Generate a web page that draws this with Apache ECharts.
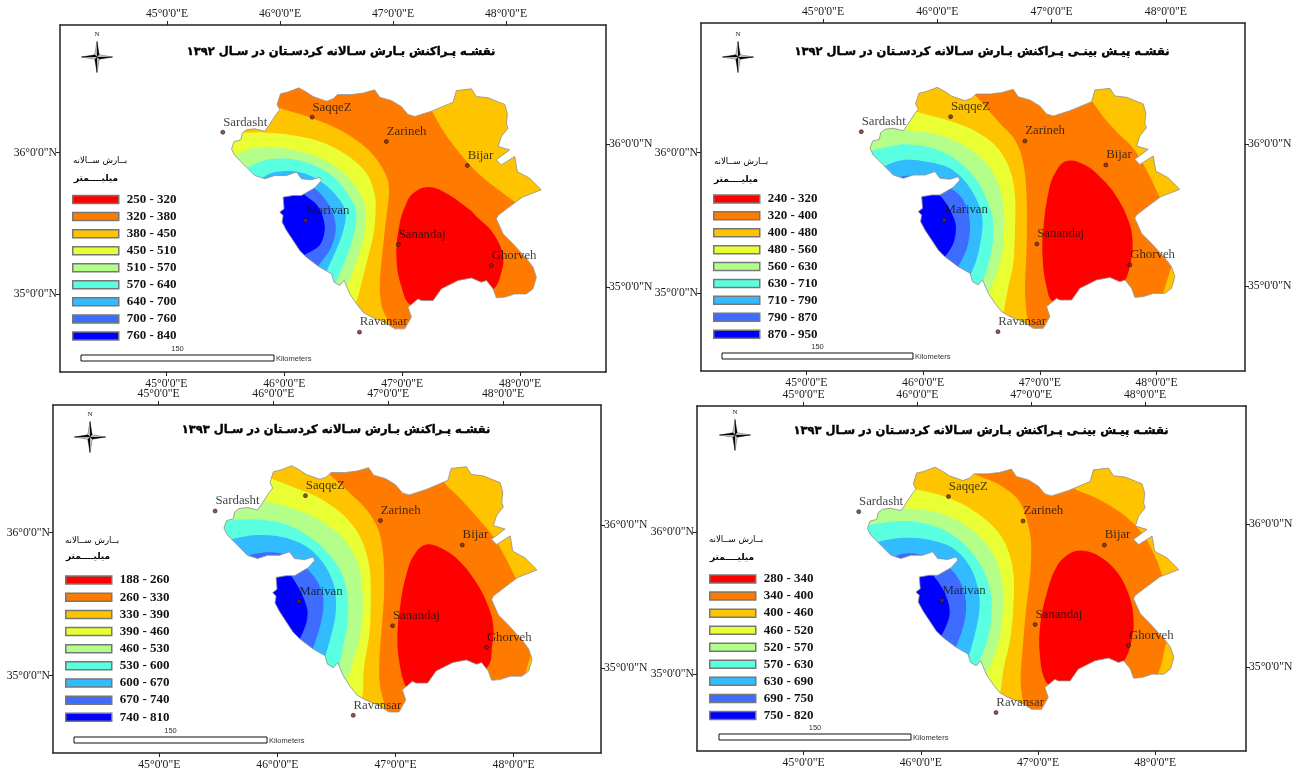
<!DOCTYPE html>
<html><head><meta charset="utf-8">
<style>html,body{margin:0;padding:0;background:#fff}#c{width:1301px;height:772px}</style>
<script src="https://cdn.jsdelivr.net/npm/echarts@6/dist/echarts.min.js"></script>
</head><body><div id="c"></div>
<script>
// ---- data: province outline and contour edges, as [lon, lat] degrees ----
const outline=[[45.558,36.027],[45.580,36.079],[45.638,36.091],[45.649,36.138],[45.686,36.162],[45.758,36.169],[45.844,36.152],[45.878,36.192],[45.944,36.275],[45.972,36.303],[45.949,36.341],[45.978,36.416],[46.038,36.428],[46.135,36.458],[46.201,36.428],[46.258,36.397],[46.373,36.364],[46.430,36.381],[46.467,36.411],[46.587,36.411],[46.687,36.421],[46.787,36.444],[46.830,36.392],[46.930,36.369],[47.016,36.326],[47.073,36.270],[47.131,36.256],[47.274,36.293],[47.460,36.357],[47.488,36.439],[47.617,36.451],[47.660,36.397],[47.760,36.388],[47.903,36.341],[47.926,36.275],[47.917,36.204],[47.931,36.173],[47.874,36.115],[47.846,36.044],[47.946,36.020],[47.831,35.950],[47.874,35.914],[47.989,35.973],[48.011,35.867],[48.117,35.820],[48.217,35.738],[48.054,35.686],[47.946,35.620],[47.846,35.557],[47.831,35.533],[47.889,35.427],[47.974,35.357],[48.103,35.239],[48.146,35.192],[48.175,35.121],[48.146,35.039],[48.089,35.003],[47.989,35.003],[47.903,34.980],[47.831,34.975],[47.803,35.039],[47.746,35.098],[47.703,35.086],[47.617,35.116],[47.502,35.098],[47.359,35.039],[47.288,34.956],[47.188,34.956],[47.159,34.968],[47.073,34.909],[47.102,34.839],[47.045,34.756],[46.959,34.756],[46.873,34.803],[46.759,34.839],[46.687,34.874],[46.630,34.933],[46.573,35.003],[46.524,35.098],[46.487,35.062],[46.438,35.086],[46.416,35.145],[46.315,35.192],[46.201,35.262],[46.144,35.309],[46.087,35.380],[46.030,35.451],[45.992,35.510],[46.001,35.557],[45.972,35.580],[46.009,35.604],[46.001,35.686],[46.087,35.698],[46.158,35.698],[46.273,35.752],[46.330,35.804],[46.315,35.827],[46.244,35.809],[46.158,35.816],[46.115,35.863],[46.030,35.839],[45.929,35.839],[45.844,35.816],[45.758,35.839],[45.701,35.886],[45.629,35.945],[45.586,35.980]];
const cityNames=['Sardasht','SaqqeZ','Zarineh','Bijar','Marivan','Sanandaj','Ghorveh','Ravansar'];
const cityLon=[45.483,46.25,46.887,47.582,46.195,46.99,47.788,46.656];
const cityLat=[36.145,36.251,36.079,35.91,35.521,35.352,35.204,34.733];

const classes1=['250 - 320','320 - 380','380 - 450','450 - 510','510 - 570','570 - 640','640 - 700','700 - 760','760 - 840'];
const classes2=['240 - 320','320 - 400','400 - 480','480 - 560','560 - 630','630 - 710','710 - 790','790 - 870','870 - 950'];
const classes3=['188 - 260','260 - 330','330 - 390','390 - 460','460 - 530','530 - 600','600 - 670','670 - 740','740 - 810'];
const classes4=['280 - 340','340 - 400','400 - 460','460 - 520','520 - 570','570 - 630','630 - 690','690 - 750','750 - 820'];
const classColors=['#ff0000','#ff7b00','#ffc400','#eaff33','#b4ff8a','#59ffdf','#33bbff','#3d6cff','#0000ff'];

const p1Gold=[[45.89,36.37],[45.96,36.32],[46.23,36.25],[46.49,36.16],[46.72,36.03],[46.86,35.88],[46.91,35.74],[46.88,35.50],[46.85,35.27],[46.83,35.06],[46.85,34.91],[46.91,34.80],[46.95,34.70]];
const p1Yellow=[[45.586,36.157],[45.643,36.143],[45.829,36.143],[46.058,36.126],[46.316,36.079],[46.544,35.985],[46.716,35.856],[46.787,35.703],[46.793,35.568],[46.773,35.408],[46.716,35.22],[46.644,34.985],[46.60,34.91]];
const p1Green=[[45.543,35.957],[45.595,35.985],[45.744,36.032],[45.944,36.037],[46.201,35.997],[46.43,35.914],[46.602,35.785],[46.702,35.632],[46.71,35.498],[46.673,35.338],[46.573,35.102],[46.53,35.039]];
const p1Cyan=[[45.658,35.863],[45.701,35.898],[45.858,35.95],[46.058,35.957],[46.258,35.914],[46.43,35.832],[46.559,35.703],[46.63,35.573],[46.587,35.361],[46.473,35.121],[46.43,35.05]];
const p1Sky=[[45.758,35.792],[45.815,35.82],[45.929,35.863],[46.115,35.867],[46.287,35.816],[46.444,35.71],[46.536,35.58],[46.501,35.408],[46.373,35.161],[46.33,35.098]];
const p1Mid=[[46.13,35.804],[46.287,35.738],[46.401,35.62],[46.453,35.479],[46.416,35.338],[46.31,35.208],[46.258,35.145]];
const p1Blue=[[46.101,35.768],[46.173,35.71],[46.301,35.62],[46.358,35.479],[46.316,35.349],[46.187,35.279],[46.101,35.227]];
const p1Red=[[47.231,35.757],[47.374,35.726],[47.603,35.597],[47.66,35.55],[47.803,35.432],[47.889,35.267],[47.86,35.114],[47.811,35.039],[47.674,34.945],[47.388,34.886],[47.102,34.921],[47.016,35.055],[46.973,35.267],[47.002,35.503],[47.059,35.644],[47.116,35.714]];
const p1GoldEast=[[47.245,36.345],[47.288,36.279],[47.388,36.138],[47.517,35.997],[47.688,35.844],[47.946,35.679],[48.032,35.627]];

const p2Gold=[[46.33,36.51],[46.459,36.404],[46.659,36.216],[46.802,36.086],[46.873,35.922],[46.902,35.686],[46.902,35.333],[46.888,35.05],[46.902,34.862],[46.945,34.697]];
const p2Yellow=[[45.929,36.31],[45.972,36.282],[46.215,36.228],[46.444,36.157],[46.644,36.039],[46.759,35.874],[46.802,35.686],[46.802,35.451],[46.787,35.215],[46.745,35.05],[46.707,34.886],[46.673,34.815]];
const p2Green=[[45.844,36.204],[45.878,36.157],[46.101,36.133],[46.33,36.063],[46.53,35.945],[46.659,35.78],[46.707,35.592],[46.707,35.404],[46.673,35.215],[46.587,35.027],[46.544,34.956]];
const p2Cyan=[[45.50,35.987],[45.558,36.009],[45.758,36.046],[45.872,36.056],[46.101,36.027],[46.301,35.945],[46.473,35.804],[46.573,35.639],[46.616,35.498],[46.602,35.309],[46.53,35.098],[46.487,35.027]];
const p2Sky=[[45.643,35.863],[45.686,35.903],[45.844,35.945],[46.044,35.933],[46.244,35.886],[46.387,35.78],[46.487,35.639],[46.524,35.498],[46.487,35.286],[46.421,35.133],[46.387,35.074]];
const p2Mid=[[45.758,35.804],[45.872,35.834],[46.072,35.804],[46.273,35.733],[46.373,35.639],[46.416,35.498],[46.393,35.333],[46.315,35.192],[46.273,35.133]];
const p2Blue=[[46.115,35.733],[46.201,35.651],[46.273,35.545],[46.295,35.462],[46.273,35.357],[46.201,35.262],[46.13,35.204]];
const p2Red=[[47.245,35.938],[47.402,35.91],[47.545,35.816],[47.674,35.686],[47.774,35.521],[47.811,35.38],[47.794,35.215],[47.737,35.074],[47.674,35.003],[47.388,34.909],[47.131,34.945],[47.073,35.05],[47.039,35.262],[47.045,35.451],[47.088,35.71],[47.145,35.851]];
const p2GoldEast=[[47.417,36.416],[47.56,36.251],[47.674,36.145],[47.817,36.027],[47.931,35.874],[48.046,35.681],[48.089,35.615]];
const p2GoldSouth=[[48.174,35.227],[48.146,35.192],[48.109,35.098],[48.074,35.003],[48.06,34.945]];

const p3Gold=[[46.36,36.497],[46.454,36.4],[46.629,36.267],[46.771,36.152],[46.87,36.013],[46.912,35.829],[46.918,35.576],[46.898,35.345],[46.878,35.115],[46.884,34.931],[46.94,34.77],[46.969,34.712]];
const p3Yellow=[[45.921,36.405],[45.964,36.37],[46.176,36.301],[46.374,36.232],[46.572,36.117],[46.714,35.967],[46.793,35.76],[46.805,35.53],[46.793,35.299],[46.748,35.069],[46.737,34.885],[46.714,34.816]];
const p3Green=[[45.865,36.255],[45.907,36.216],[46.091,36.175],[46.318,36.105],[46.544,35.979],[46.686,35.806],[46.728,35.645],[46.737,35.46],[46.714,35.276],[46.657,35.115],[46.615,35.0],[46.572,34.931]];
const p3Cyan=[[45.511,36.059],[45.638,36.082],[45.836,36.087],[46.063,36.059],[46.261,35.979],[46.431,35.864],[46.558,35.714],[46.609,35.553],[46.609,35.391],[46.587,35.276],[46.53,35.057],[46.487,35.0]];
const p3Sky=[[45.596,35.944],[45.652,35.956],[45.836,35.979],[46.063,35.963],[46.261,35.898],[46.403,35.783],[46.487,35.645],[46.51,35.507],[46.493,35.368],[46.417,35.138],[46.374,35.069]];
const p3Mid=[[45.709,35.806],[45.808,35.847],[46.006,35.857],[46.176,35.806],[46.289,35.725],[46.374,35.622],[46.403,35.507],[46.38,35.368],[46.318,35.207],[46.275,35.138]];
const p3Blue=[[46.077,35.737],[46.134,35.691],[46.21,35.587],[46.261,35.483],[46.267,35.414],[46.247,35.345],[46.204,35.265],[46.162,35.219]];
const p3Red=[[47.28,35.914],[47.422,35.88],[47.563,35.794],[47.705,35.645],[47.804,35.483],[47.846,35.345],[47.832,35.184],[47.812,35.087],[47.705,35.0],[47.422,34.908],[47.139,34.885],[47.096,34.942],[47.054,35.069],[47.031,35.253],[47.054,35.483],[47.11,35.714],[47.181,35.852]];
const p3GoldEast=[[47.408,36.405],[47.436,36.336],[47.563,36.232],[47.705,36.105],[47.846,35.967],[47.945,35.829],[48.03,35.691],[48.073,35.633]];
const p3GoldSouth=[[48.2,35.184],[48.163,35.138],[48.13,35.057],[48.11,35.0],[48.087,34.954]];

const p4Gold=[[46.377,36.485],[46.477,36.41],[46.69,36.332],[46.847,36.227],[46.918,36.086],[46.955,35.922],[46.946,35.688],[46.912,35.454],[46.875,35.103],[46.867,34.939],[46.89,34.798],[46.918,34.704]];
const p4Yellow=[[45.936,36.321],[45.978,36.302],[46.206,36.255],[46.434,36.168],[46.633,36.04],[46.747,35.899],[46.804,35.712],[46.804,35.477],[46.776,35.243],[46.724,35.056],[46.696,34.892],[46.676,34.833]];
const p4Green=[[45.836,36.215],[45.865,36.173],[46.092,36.152],[46.32,36.086],[46.534,35.957],[46.662,35.794],[46.713,35.618],[46.713,35.43],[46.676,35.22],[46.59,35.032],[46.548,34.962]];
const p4Cyan=[[45.494,36.028],[45.551,36.047],[45.751,36.075],[45.95,36.075],[46.178,36.028],[46.377,35.922],[46.534,35.758],[46.605,35.594],[46.619,35.454],[46.59,35.266],[46.519,35.103],[46.477,35.032]];
const p4Sky=[[45.623,35.91],[45.679,35.939],[45.879,35.962],[46.092,35.946],[46.292,35.887],[46.434,35.758],[46.505,35.594],[46.514,35.454],[46.477,35.29],[46.42,35.126],[46.377,35.067]];
const p4Mid=[[45.722,35.794],[45.822,35.84],[45.95,35.852],[46.149,35.805],[46.277,35.735],[46.363,35.63],[46.40,35.501],[46.383,35.36],[46.32,35.208],[46.277,35.149]];
const p4Blue=[[46.05,35.735],[46.121,35.693],[46.206,35.594],[46.257,35.477],[46.249,35.384],[46.192,35.278],[46.149,35.231]];
const p4Red=[[47.402,35.871],[47.544,35.829],[47.687,35.723],[47.786,35.571],[47.829,35.407],[47.815,35.243],[47.749,35.091],[47.658,35.009],[47.402,34.915],[47.146,34.915],[47.075,34.962],[47.032,35.126],[47.032,35.337],[47.089,35.571],[47.174,35.758],[47.288,35.852]];
const p4GoldEast=[[47.288,36.344],[47.316,36.309],[47.516,36.239],[47.687,36.157],[47.829,36.063],[47.943,35.946],[48.028,35.805],[48.08,35.683],[48.099,35.63]];
const p4GoldSouth=[[48.142,35.266],[48.108,35.22],[48.071,35.079],[48.042,35.009],[48.028,34.95]];

const titles=['نقشـه پـراکنش بـارش سـالانه کردسـتان در سـال ۱۳۹۲','نقشـه پیـش بینـی پـراکنش بـارش سـالانه کردسـتان در سـال ۱۳۹۲','نقشـه پـراکنش بـارش سـالانه کردسـتان در سـال ۱۳۹۳','نقشـه پیـش بینـی پـراکنش بـارش سـالانه کردسـتان در سـال ۱۳۹۳'];
const headRain='بــارش ســالانه', headUnit='میلیــــمتر';

// ---- layout ----
const W=45.3,E=48.3,S=34.6,N=36.6;
const closeWest=c=>({curve:c,tail:[[c[c.length-1][0],S],[W,S],[W,c[0][1]]]});
const closeEast=c=>({curve:c,tail:[[E,c[c.length-1][1]],[E,N],[c[0][0],N]]});
const panels=[
 {frame:[60,25,606,372],bot:[166.4,117.9],top:[167,113],left:[152.7,141.6],right:[144,143],map:[166.53,53.6,407.75,311.52],classes:classes1,
  polys:[[p1Red],[outline],[closeWest(p1Gold),closeEast(p1GoldEast)],[closeWest(p1Yellow)],[closeWest(p1Green)],[closeWest(p1Cyan)],[closeWest(p1Sky)],[closeWest(p1Mid)],[closeWest(p1Blue)]],
  legend:[72,191,17.05],title:[341,46],head:[100,161,96,179],bar:[81,355,193],comp:[97,57]},
 {frame:[701,23,1245,371],bot:[806.4,116.7],top:[823,114.3],left:[152.7,140.6],right:[144,142],map:[805.03,53.1,407.75,311.52],classes:classes2,
  polys:[[p2Red],[outline],[closeWest(p2Gold),closeEast(p2GoldEast),closeEast(p2GoldSouth)],[closeWest(p2Yellow)],[closeWest(p2Green)],[closeWest(p2Cyan)],[closeWest(p2Sky)],[closeWest(p2Mid)],[closeWest(p2Blue)]],
  legend:[713,190.5,16.9],title:[982,46],head:[741,162,736,180],bar:[722,353,191],comp:[738,57]},
 {frame:[53,405,601,753],bot:[159.3,118.1],top:[158.6,114.8],left:[532.5,143],right:[525,143],map:[158.22,430.67,412.15,318.37],classes:classes3,
  polys:[[p3Red],[outline],[closeWest(p3Gold),closeEast(p3GoldEast),closeEast(p3GoldSouth)],[closeWest(p3Yellow)],[closeWest(p3Green)],[closeWest(p3Cyan)],[closeWest(p3Sky)],[closeWest(p3Mid)],[closeWest(p3Blue)]],
  legend:[65,571.5,17.15],title:[336,424],head:[92,541,88,557],bar:[74,737,193],comp:[90,437]},
 {frame:[697,406,1246,751],bot:[803.6,117.2],top:[803.6,113.8],left:[532,142],right:[524,143],map:[802.14,432.69,409.78,313.08],classes:classes4,
  polys:[[p4Red],[outline],[closeWest(p4Gold),closeEast(p4GoldEast),closeEast(p4GoldSouth)],[closeWest(p4Yellow)],[closeWest(p4Green)],[closeWest(p4Cyan)],[closeWest(p4Sky)],[closeWest(p4Mid)],[closeWest(p4Blue)]],
  legend:[709,570.5,17.05],title:[981,425],head:[736,540,732,558],bar:[719,734,192],comp:[735,435]}
];
const classZ=[9,1,2,3,4,5,6,7,8];
const serif='"Liberation Serif"', arabic='"DejaVu Sans"', sans='"Liberation Sans"';

const grid=[],xAxis=[],yAxis=[],series=[],legend=[],title=[],graphic=[];
const lonLabel=v=>`${v}°0'0"E`, latLabel=v=>`${v}°0'0"N`;
const lonVals=[45,46,47,48], latVals=[35,36];
const axBase=(fmt,vals,pos,margin)=>({type:'value',position:pos,splitLine:{show:false},
  axisLine:{show:true,onZero:false,lineStyle:{color:'#222',width:1.5}},
  axisTick:{show:true,length:4,customValues:vals,lineStyle:{color:'#222',width:1}},
  axisLabel:{show:true,customValues:vals,formatter:fmt,margin,fontFamily:serif,fontSize:11.7,color:'#1a1a1a'}});

// smooth rendering of a contour edge between its read points (pixel space)
function spline(pts,seg){
  const out=[];
  for(let i=0;i<pts.length-1;i++){
    const a=pts[Math.max(i-1,0)],b=pts[i],c=pts[i+1],d=pts[Math.min(i+2,pts.length-1)];
    for(let s=0;s<seg;s++){
      const t=s/seg,t2=t*t,t3=t2*t;
      out.push([0,1].map(k=>0.5*(2*b[k]+(c[k]-a[k])*t+(2*a[k]-5*b[k]+4*c[k]-d[k])*t2+(3*b[k]-a[k]-3*c[k]+d[k])*t3)));
    }
  }
  out.push(pts[pts.length-1]);
  return out;
}

function compass(cx,cy){
  const r=15.5,w=2.2,out=[];
  const arms=[[0,-1],[1,0],[0,1],[-1,0]];
  arms.forEach(([dx,dy])=>{
    const tip=[cx+dx*r,cy+dy*r], a=[cx+dx*w-dy*w,cy+dy*w+dx*w], b=[cx+dx*w+dy*w,cy+dy*w-dx*w];
    out.push({type:'polygon',z:50,shape:{points:[tip,a,[cx,cy]]},style:{fill:'#000',stroke:'#000',lineWidth:.4}});
    out.push({type:'polygon',z:50,shape:{points:[tip,b,[cx,cy]]},style:{fill:'#ddd',stroke:'#222',lineWidth:.4}});
  });
  out.push({type:'text',z:50,x:cx,y:cy-r-7,style:{text:'N',font:'7px '+serif,fill:'#222',textAlign:'center',textVerticalAlign:'middle'}});
  return out;
}

panels.forEach((p,i)=>{
  const [L,T,R,B]=p.frame, ax=i*3, gm=i*2, gf=i*2+1;
  grid.push({left:p.map[0],top:p.map[1],width:p.map[2],height:p.map[3]});
  grid.push({left:L,top:T,width:R-L,height:B-T});
  xAxis.push({type:'value',gridIndex:gm,min:45,max:48.5,show:false});
  yAxis.push({type:'value',gridIndex:gm,min:34.5,max:36.7,show:false});
  const xr=([x,d])=>{const mn=45-(x-L)/d;return {min:mn,max:mn+(R-L)/d}};
  const yr=([y,d])=>{const mx=36+(y-T)/d;return {max:mx,min:mx-(B-T)/d}};
  xAxis.push({...axBase(lonLabel,lonVals,'bottom',6),gridIndex:gf,...xr(p.bot)});
  xAxis.push({...axBase(lonLabel,lonVals,'top',5),gridIndex:gf,...xr(p.top)});
  yAxis.push({...axBase(latLabel,latVals,'left',3),gridIndex:gf,...yr(p.left)});
  yAxis.push({...axBase(latLabel,latVals,'right',3),gridIndex:gf,...yr(p.right)});
  const xi=ax, yi=ax;
  p.classes.forEach((name,k)=>{
    const polys=p.polys[k], fill=classColors[k];
    series.push({type:'custom',name,coordinateSystem:'cartesian2d',xAxisIndex:xi,yAxisIndex:yi,z:classZ[k],clip:false,silent:true,
      itemStyle:{color:fill},data:polys.map((pg,n)=>{const f=pg.curve?pg.curve[0]:pg[0];return [f[0],f[1],n]}),
      renderItem:(params,api)=>{
        const pg=polys[params.dataIndex];
        if(pg.curve){
          return {type:'polygon',shape:{points:[...spline(pg.curve.map(q=>api.coord(q)),8),...pg.tail.map(q=>api.coord(q))]},style:{fill}};
        }
        return {type:'polygon',shape:{points:pg.map(q=>api.coord(q)),smooth:pg===outline?0:0.4},style:{fill}};
      }});
  });
  const maskPts=[[45.25,36.62],[45.25,34.55],[48.35,34.55],[48.35,36.62],[45.25,36.62],...outline,outline[0]];
  series.push({type:'custom',name:'mask'+i,coordinateSystem:'cartesian2d',xAxisIndex:xi,yAxisIndex:yi,z:20,clip:false,silent:true,
    data:[[45.25,36.62,0]],renderItem:(params,api)=>({type:'polygon',shape:{points:maskPts.map(q=>api.coord(q))},style:{fill:'#fff'}})});
  series.push({type:'custom',name:'outline'+i,coordinateSystem:'cartesian2d',xAxisIndex:xi,yAxisIndex:yi,z:21,clip:false,silent:true,
    data:[[outline[0][0],outline[0][1],0]],renderItem:(params,api)=>({type:'polygon',shape:{points:outline.map(q=>api.coord(q))},style:{fill:'none',stroke:'#8e8e8e',lineWidth:.8}})});
  series.push({type:'scatter',name:'cities'+i,xAxisIndex:xi,yAxisIndex:yi,z:22,silent:true,symbolSize:4,
    itemStyle:{color:'#7a2c12',borderColor:'#111',borderWidth:.7},
    label:{show:true,position:'right',distance:0,offset:[-2,-10],formatter:d=>d.name,fontFamily:serif,fontSize:12.8,color:'#111'},
    data:cityNames.map((n,j)=>({name:n,value:[cityLon[j],cityLat[j]]}))});
  legend.push({data:p.classes,orient:'vertical',left:p.legend[0],top:p.legend[1],padding:0,itemGap:0,itemWidth:46,itemHeight:8,
    icon:'rect',selectedMode:false,itemStyle:{borderColor:'#777',borderWidth:1.5},
    textStyle:{fontFamily:serif,fontWeight:'bold',fontSize:13,color:'#111',lineHeight:p.legend[2]-6,padding:[0,0,6,3]}});
  title.push({text:titles[i],left:p.title[0],top:p.title[1],textAlign:'center',padding:0,
    textStyle:{fontFamily:arabic,fontWeight:'bold',fontSize:11.5,color:'#000',textBorderColor:'#000',textBorderWidth:.4}});
  graphic.push({type:'text',z:50,x:p.head[0],y:p.head[1],style:{text:headRain,font:'8.6px '+arabic,fill:'#000',textAlign:'center',textVerticalAlign:'middle'}});
  graphic.push({type:'text',z:50,x:p.head[2],y:p.head[3],style:{text:headUnit,font:'bold 9px '+arabic,fill:'#000',textAlign:'center',textVerticalAlign:'middle'}});
  const [bx,by,bw]=p.bar;
  graphic.push({type:'rect',z:50,shape:{x:bx,y:by,width:bw,height:6},style:{fill:'#fff',stroke:'#111',lineWidth:1}});
  graphic.push({type:'text',z:50,x:bx+bw/2,y:by-6,style:{text:'150',font:'7.5px '+sans,fill:'#333',textAlign:'center',textVerticalAlign:'middle'}});
  graphic.push({type:'text',z:50,x:bx+bw+2,y:by+4,style:{text:'Kilometers',font:'7.5px '+sans,fill:'#333',textAlign:'left',textVerticalAlign:'middle'}});
  graphic.push(...compass(p.comp[0],p.comp[1]));
});

const chart=echarts.init(document.getElementById('c'),null,{renderer:'canvas'});
chart.setOption({animation:false,backgroundColor:'#fff',tooltip:{show:false},title,legend,grid,xAxis,yAxis,series,graphic:{elements:graphic}});
</script></body></html>
